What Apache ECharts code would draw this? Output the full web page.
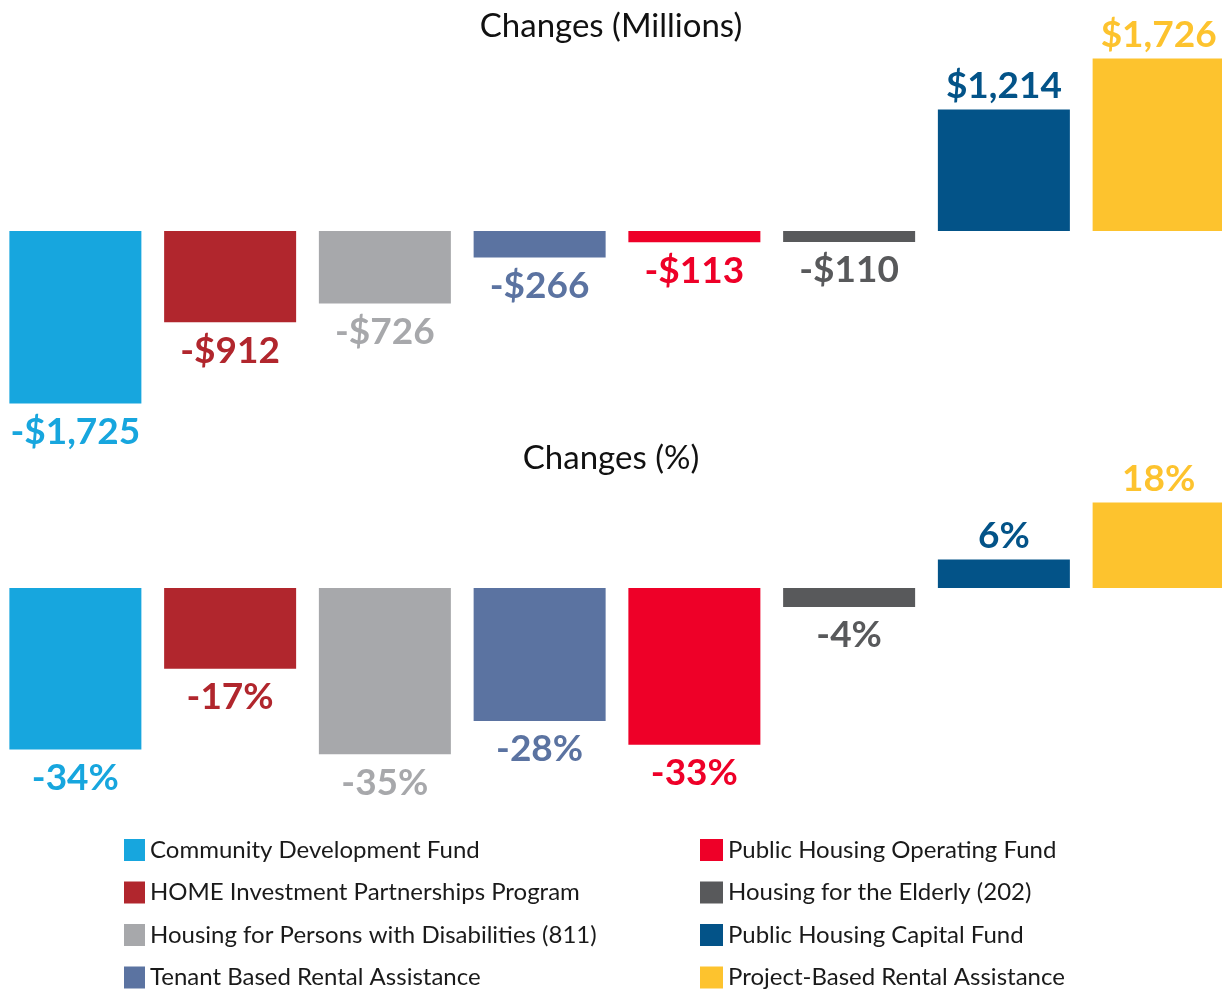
<!DOCTYPE html>
<html>
<head>
<meta charset="utf-8">
<script src="https://cdn.jsdelivr.net/npm/echarts@6/dist/echarts.min.js"></script>
<style>
  html, body { margin: 0; padding: 0; background: #fff; }
  #main { width: 1222px; height: 991px; }
</style>
</head>
<body>
<div id="main"></div>
<script>
// programs, in drawing order
var programs = [
  'Community Development Fund',
  'HOME Investment Partnerships Program',
  'Housing for Persons with Disabilities (811)',
  'Tenant Based Rental Assistance',
  'Public Housing Operating Fund',
  'Housing for the Elderly (202)',
  'Public Housing Capital Fund',
  'Project-Based Rental Assistance'
];
var changeMillions = [-1725, -912, -726, -266, -113, -110, 1214, 1726];
var changePercent = [-34, -17, -35, -28, -33, -4, 6, 18];
var colors = ['#17a6de', '#b1262d', '#a7a8ab', '#5b73a1', '#ee0028', '#58595b', '#035388', '#fdc32e'];

var chart = echarts.init(document.getElementById('main'));

function money(v) {
  var s = Math.abs(v).toLocaleString('en-US');
  return (v < 0 ? '-$' : '$') + s;
}

function buildSeries(values, axisIdx, fmt) {
  return programs.map(function (name, i) {
    var data = values.map(function (v, j) { return j === i ? v : '-'; });
    var neg = values[i] < 0;
    return {
      name: name,
      type: 'bar',
      xAxisIndex: axisIdx,
      yAxisIndex: axisIdx,
      barWidth: 132,
      barGap: '-100%',
      itemStyle: { color: colors[i] },
      label: {
        show: true,
        position: neg ? 'bottom' : 'top',
        distance: neg ? 10 : 5,
        color: colors[i],
        fontFamily: 'Lato',
        fontWeight: 'bold',
        fontSize: 37,
        formatter: function (p) { return fmt(p.value); }
      },
      animation: false,
      data: data
    };
  });
}

var legendText = { fontFamily: 'Lato', fontSize: 24, color: '#1a1a1a' };

var option = {
  backgroundColor: '#fff',
  title: [
    { text: 'Changes (Millions)', left: 'center', top: 5,
      textStyle: { fontFamily: 'Lato', fontWeight: 'normal', fontSize: 33, color: '#111' } },
    { text: 'Changes (%)', left: 'center', top: 437,
      textStyle: { fontFamily: 'Lato', fontWeight: 'normal', fontSize: 33, color: '#111' } }
  ],
  legend: [
    { data: programs.slice(0, 4), orient: 'vertical', left: 124, top: 838, height: 200, padding: 0,
      icon: 'rect', itemWidth: 21, itemHeight: 22, itemGap: 18.5,
      selectedMode: false, textStyle: legendText },
    { data: programs.slice(4), orient: 'vertical', left: 700, top: 838, height: 200, padding: 0,
      icon: 'rect', itemWidth: 23, itemHeight: 22, itemGap: 18.5,
      selectedMode: false, textStyle: legendText }
  ],
  grid: [
    { left: -2, width: 1238, top: 31, height: 400, outerBoundsMode: 'none' },
    { left: -2, width: 1238, top: 398, height: 380, outerBoundsMode: 'none' }
  ],
  xAxis: [
    { type: 'category', gridIndex: 0, data: programs, show: false },
    { type: 'category', gridIndex: 1, data: programs, show: false }
  ],
  yAxis: [
    { type: 'value', gridIndex: 0, min: -2000, max: 2000, show: false, splitLine: { show: false } },
    { type: 'value', gridIndex: 1, min: -40, max: 40, show: false, splitLine: { show: false } }
  ],
  series: buildSeries(changeMillions, 0, money)
    .concat(buildSeries(changePercent, 1, function (v) { return v + '%'; }))
};

chart.setOption(option);
</script>
</body>
</html>
